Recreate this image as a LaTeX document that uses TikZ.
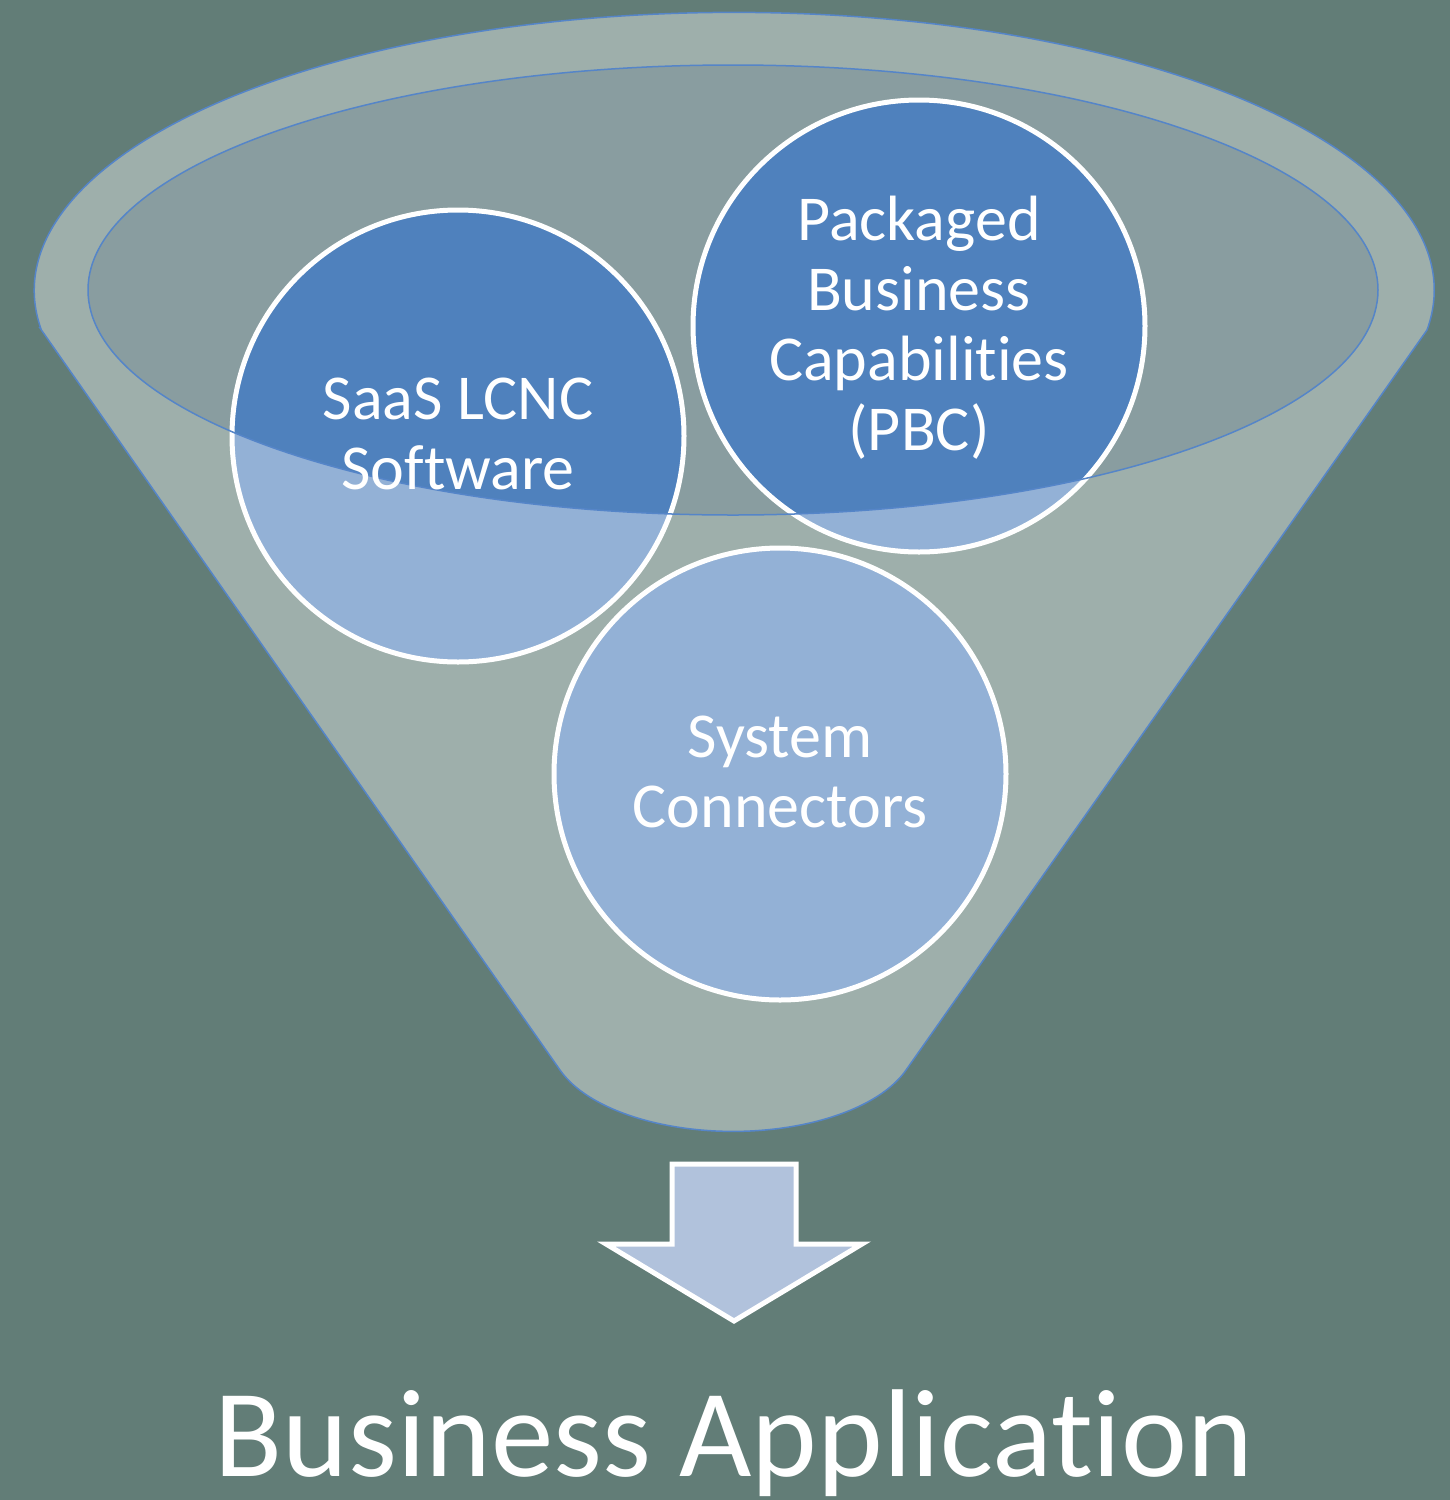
\documentclass[tikz,border=0pt]{standalone}
\usepackage{fontspec}
\setmainfont{Carlito}[Ligatures={NoCommon}]
\definecolor{bgc}{HTML}{627D77}
\definecolor{ellc}{HTML}{899DA0}
\definecolor{darkblue}{HTML}{4F81BD}
\definecolor{lineblue}{HTML}{5585C8}
\definecolor{arrowc}{HTML}{B1C2DC}
\tikzset{
  bubble/.style={circle, minimum size=452pt, inner sep=0pt, fill=darkblue},
  bubbleline/.style={draw=white, line width=5pt},
  bubbletext/.style={anchor=base, inner sep=0pt, text=white},
  funneledge/.style={draw=lineblue, line width=1.5pt},
}
\newcommand{\bubtxt}[1]{\parbox[t]{420pt}{\fontsize{64}{70}\selectfont\centering #1}}
\begin{document}
\begin{tikzpicture}[x=1pt,y=1pt]
\useasboundingbox (0,0) rectangle (1450,-1500);
\fill[bgc] (0,0) rectangle (1450,-1500);
% inner ellipse (mouth)
\fill[ellc] (733,-290) ellipse[x radius=645, y radius=225];
% circles
\node[bubble] (saas) at (458,-436) {};
\node[bubble] (pbc) at (919,-326) {};
\node[bubble] (sys) at (780,-774) {};
% funnel body (translucent, with hole for mouth)
\path[fill=white, fill opacity=0.39, even odd rule]
  (40,-328) -- (560,-1070)
  arc[start angle=199, end angle=341, x radius=183, y radius=91]
  -- (1427,-330)
  arc[start angle=-8.2, end angle=187.8, x radius=700, y radius=278]
  -- cycle
  (733,-290) ellipse[x radius=645, y radius=225];
% circle outlines
\draw[bubbleline] (saas) circle[radius=226];
\draw[bubbleline] (pbc) circle[radius=226];
\draw[bubbleline] (sys) circle[radius=226];
% outlines of funnel and mouth
\draw[funneledge] (733,-290) ellipse[x radius=645, y radius=225];
\draw[funneledge]
  (40,-328) -- (560,-1070)
  arc[start angle=199, end angle=341, x radius=183, y radius=91]
  -- (1427,-330)
  arc[start angle=-8.2, end angle=187.8, x radius=700, y radius=278]
  -- cycle;
% texts
\node[bubbletext] (saast) at (458,-419) {\bubtxt{SaaS LCNC\\Software}};
\node[bubbletext] (pbct) at (919,-240) {\bubtxt{Packaged\\Business\\Capabilities\\(PBC)}};
\node[bubbletext] (syst) at (780,-757) {\bubtxt{System\\Connectors}};
% arrow
\draw[fill=arrowc, draw=white, line width=5pt, line join=miter]
  (672,-1164) -- (796,-1164) -- (796,-1244) -- (862,-1244) -- (734,-1321)
  -- (606,-1244) -- (672,-1244) -- cycle;
\node[anchor=base, inner sep=0pt, text=white, font=\fontsize{125}{130}\selectfont] (app) at (734,-1476) {Business Application};
\end{tikzpicture}
\end{document}
